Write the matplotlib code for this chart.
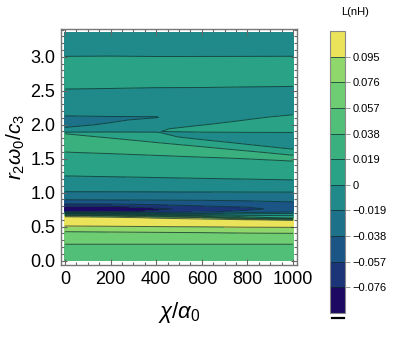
"""
Contour plot L(nH) vs chi/alpha0 and r2*omega0/c3
"""

import numpy as np
import matplotlib
matplotlib.use('Agg')
import matplotlib.pyplot as plt

# grid columns (chi/alpha0) and rows (r2 omega0 / c3)
chi = [0, 200, 400, 600, 800, 1000]
r_omega = [0.00, 0.32, 0.46, 0.55, 0.60, 0.63, 0.65, 0.69, 0.72, 0.76, 0.80, 0.85,
           0.93, 1.01, 1.12, 1.30, 1.45, 1.51, 1.59, 1.66, 1.74, 1.82, 1.88, 1.90,
           1.94, 2.00, 2.07, 2.11, 2.15, 2.30, 2.54, 2.75, 3.20, 3.36]

L_nH = [
    [0.045, 0.045, 0.045, 0.045, 0.045, 0.045],
    [0.061, 0.061, 0.061, 0.061, 0.061, 0.061],
    [0.081, 0.082, 0.083, 0.084, 0.086, 0.087],
    [0.107, 0.108, 0.110, 0.111, 0.112, 0.112],
    [0.106, 0.106, 0.106, 0.104, 0.096, 0.091],
    [0.104, 0.102, 0.092, 0.0815, 0.035, 0.010],
    [0.092, 0.085, 0.060, 0.040, 0.012, 0.006],
    [0.000, -0.010, -0.030, -0.035, -0.020, -0.015],
    [-0.082, -0.081, -0.072, -0.060, -0.052, -0.042],
    [-0.091, -0.089, -0.080, -0.068, -0.062, -0.048],
    [-0.077, -0.076, -0.066, -0.058, -0.054, -0.046],
    [-0.048, -0.047, -0.046, -0.045, -0.043, -0.040],
    [-0.030, -0.030, -0.030, -0.030, -0.029, -0.028],
    [-0.0193, -0.0192, -0.0191, -0.0189, -0.0188, -0.0187],
    [-0.010, -0.010, -0.010, -0.010, -0.010, -0.010],
    [0.0043, 0.0058, 0.0076, 0.0100, 0.0128, 0.0169],
    [0.008, 0.010, 0.012, 0.014, 0.016, 0.0175],
    [0.012, 0.014, 0.016, 0.018, 0.0199, 0.024],
    [0.0185, 0.0203, 0.0223, 0.0247, 0.022, 0.014],
    [0.023, 0.025, 0.025, 0.021, 0.0129, -0.0056],
    [0.027, 0.026, 0.0188, 0.011, -0.0077, -0.008],
    [0.024, 0.0171, 0.010, -0.011, -0.006, -0.006],
    [0.0175, 0.006, 0.0005, -0.004, -0.002, -0.0008],
    [-0.0175, -0.004, -0.0005, 0.004, 0.0037, 0.0024],
    [-0.018, -0.012, -0.002, 0.005, 0.006, 0.006],
    [-0.021, -0.018, -0.009, -0.0006, 0.005, 0.008],
    [-0.025, -0.0203, -0.017, -0.008, 0.0003, 0.007],
    [-0.0215, -0.0205, -0.0195, -0.010, -0.003, 0.004],
    [-0.0165, -0.0145, -0.017, -0.011, -0.006, -0.0004],
    [-0.010, -0.010, -0.010, -0.010, -0.009, -0.008],
    [0.0007, 0.0003, -0.0002, -0.0003, -0.0007, -0.001],
    [0.010, 0.0095, 0.009, 0.0088, 0.0085, 0.0081],
    [-0.0076, -0.007, -0.007, -0.0068, -0.0065, -0.0061],
    [-0.010, -0.010, -0.010, -0.010, -0.010, -0.010],
]

levels = [-0.095, -0.076, -0.057, -0.038, -0.019, 0.0, 0.019, 0.038, 0.057, 0.076, 0.095, 0.114]
cbar_ticks = [-0.076, -0.057, -0.038, -0.019, 0.0, 0.019, 0.038, 0.057, 0.076, 0.095]
cbar_labels = ['\u22120.076', '\u22120.057', '\u22120.038', '\u22120.019', '0',
               '0.019', '0.038', '0.057', '0.076', '0.095']

band_colors = ['#1d0862', '#1c3478', '#1b5586', '#1d7289', '#20898a', '#29a286',
               '#3bb07f', '#52bf79', '#6ecc72', '#8fd66b', '#ebe45a']

plt.rcParams['font.family'] = 'Liberation Sans'
plt.rcParams['mathtext.fontset'] = 'custom'
plt.rcParams['mathtext.it'] = 'Liberation Sans:italic'
plt.rcParams['mathtext.rm'] = 'Liberation Sans'
plt.rcParams['contour.negative_linestyle'] = 'solid'

fig = plt.figure(figsize=(3.93, 3.52), dpi=100)
ax = fig.add_axes([0.155, 0.247, 0.601, 0.671])
cax = fig.add_axes([0.840, 0.111, 0.038, 0.801])

X, Y = np.meshgrid(chi, r_omega)
Z = np.array(L_nH)

cf = ax.contourf(X, Y, Z, levels=levels, colors=band_colors)
cl = ax.contour(X, Y, Z, levels=levels, colors='#0d2e2e', linewidths=0.7,
                alpha=0.75, linestyles='solid')

ax.set_xlim(-17.5, 1017.5)
ax.set_ylim(-0.066, 3.41)
ax.set_xticks([0, 200, 400, 600, 800, 1000])
ax.set_xticks(np.arange(0, 1001, 50), minor=True)
ax.set_yticks([0.0, 0.5, 1.0, 1.5, 2.0, 2.5, 3.0])
ax.set_yticklabels(['0.0', '0.5', '1.0', '1.5', '2.0', '2.5', '3.0'])
ax.set_yticks(np.arange(0, 3.41, 0.1), minor=True)
ax.tick_params(which='both', direction='in', top=True, right=True, color='#666666',
               width=0.8, labelsize=13, pad=4)
ax.tick_params(which='major', length=4.5)
ax.tick_params(which='minor', length=2.5)
for sp in ax.spines.values():
    sp.set_color('#777777')
    sp.set_linewidth(1.0)

ax.set_xlabel(r'$\chi/\alpha_0$', fontsize=16, labelpad=9)
ax.set_ylabel(r'$r_2\omega_0/c_3$', fontsize=15, labelpad=2)

cbar = fig.colorbar(cf, cax=cax, ticks=cbar_ticks)
cbar.ax.set_yticklabels(cbar_labels)
cbar.add_lines(cl)
cbar.outline.set_edgecolor('#888888')
cbar.outline.set_linewidth(0.8)
cax.tick_params(length=3.5, width=0.6, color='#888888', labelsize=8, pad=2)

# small black mark under the colorbar
cax.plot([0.1, 0.9], [-0.018, -0.018], transform=cax.transAxes, color='black',
         linewidth=1.6, clip_on=False)

fig.text(0.903, 0.966, 'L(nH)', ha='center', va='center', fontsize=8)

plt.savefig('out.png', dpi=100)
plt.close()
